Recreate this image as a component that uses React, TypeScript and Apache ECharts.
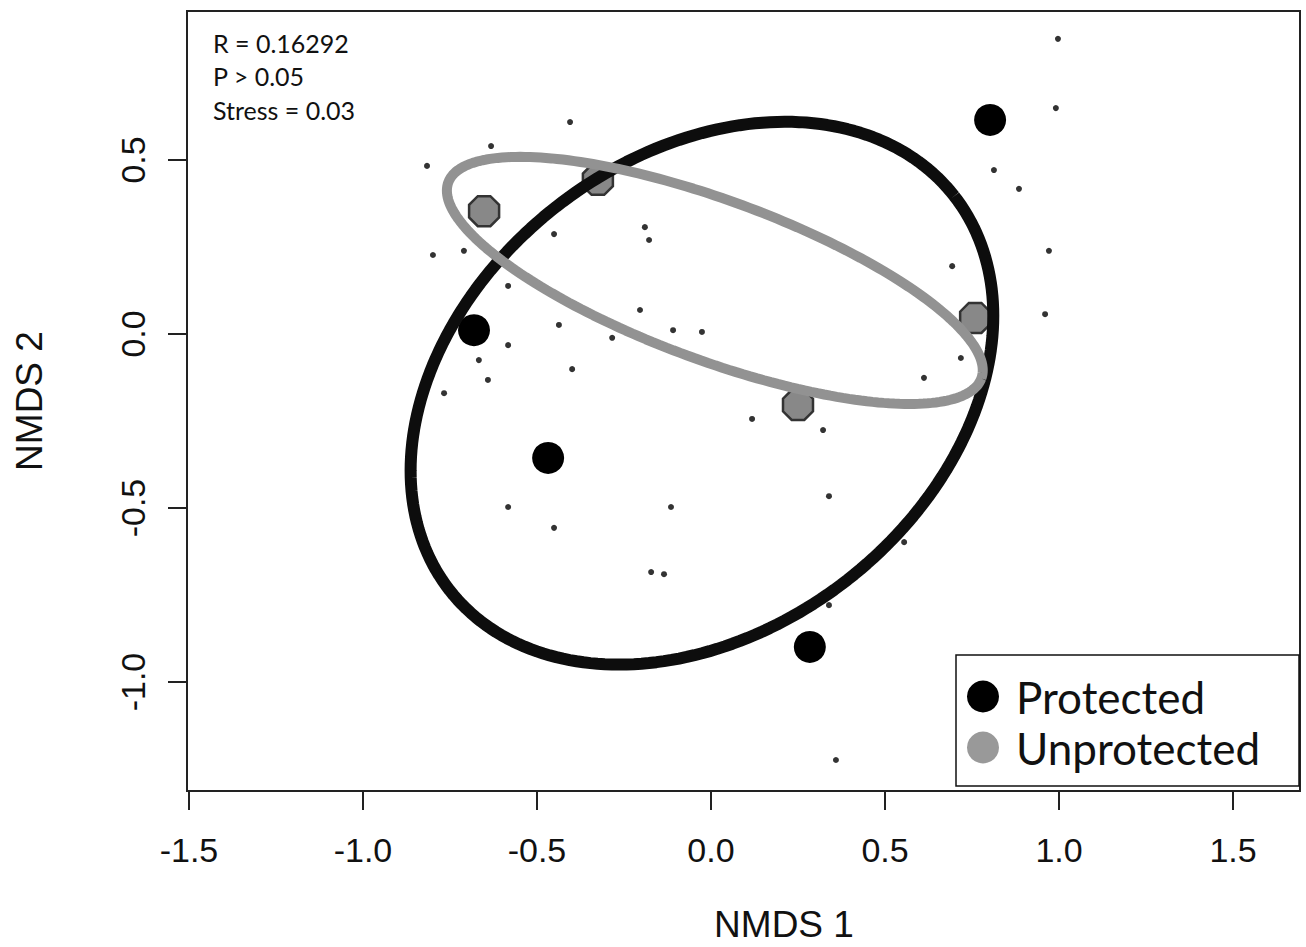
import React, { useEffect, useRef } from "react";
import * as echarts from "echarts";

// ---- Data ----
const protectedX = [0.802, -0.681, -0.468, 0.284];
const protectedY = [0.615, 0.011, -0.356, -0.899];

const unprotectedX = [-0.652, -0.325, 0.759, 0.25];
const unprotectedY = [0.353, 0.443, 0.046, -0.204];

const speciesX = [
  0.997, 0.991, -0.405, -0.632, -0.816, 0.813, 0.885, -0.451, -0.19, -0.178,
  -0.799, -0.71, 0.971, 0.693, -0.583, 0.96, -0.204, -0.109, -0.026, -0.437,
  -0.284, -0.583, -0.667, -0.641, -0.399, -0.767, 0.612, 0.718, 0.118, 0.322,
  0.339, -0.583, -0.451, -0.115, -0.172, -0.135, 0.555, 0.339, 0.359,
];
const speciesY = [
  0.848, 0.649, 0.609, 0.54, 0.483, 0.471, 0.417, 0.287, 0.307, 0.27,
  0.227, 0.239, 0.239, 0.195, 0.138, 0.057, 0.069, 0.011, 0.006, 0.026,
  -0.011, -0.032, -0.075, -0.132, -0.101, -0.17, -0.126, -0.069, -0.244, -0.276,
  -0.466, -0.497, -0.557, -0.497, -0.684, -0.69, -0.598, -0.779, -1.224,
];

const xTicks = [-1.5, -1.0, -0.5, 0.0, 0.5, 1.0, 1.5];
const yTicks = [-1.0, -0.5, 0.0, 0.5];
const statsLines = ["R = 0.16292", "P > 0.05", "Stress = 0.03"];
const groupNames = ["Protected", "Unprotected"];

// ellipse parameters (data units): centre, semi-axes, rotation in degrees
const protectedEllipse = { cx: -0.026, cy: -0.17, a: 0.92, b: 0.68, angle: 38 };
const unprotectedEllipse = { cx: 0.011, cy: 0.154, a: 0.816, b: 0.23, angle: -20.2 };

function ellipsePoints(e: { cx: number; cy: number; a: number; b: number; angle: number }) {
  const pts: number[][] = [];
  const th = (e.angle * Math.PI) / 180;
  const n = 240;
  for (let i = 0; i <= n; i++) {
    const t = (i / n) * Math.PI * 2;
    const u = e.a * Math.cos(t);
    const v = e.b * Math.sin(t);
    pts.push([e.cx + u * Math.cos(th) - v * Math.sin(th), e.cy + u * Math.sin(th) + v * Math.cos(th)]);
  }
  return pts;
}

const zip = (xs: number[], ys: number[]) => xs.map((x, i) => [x, ys[i]]);

const OCTAGON = "path://M29,0L71,0L100,29L100,71L71,100L29,100L0,71L0,29Z";
const SANS = "'Liberation Sans', Arial, sans-serif";
const CAL = "Lato, 'Open Sans', sans-serif";

export default function App() {
  const ref = useRef<HTMLDivElement>(null);
  useEffect(() => {
    const chart = echarts.init(ref.current!, null, { renderer: "svg" });
    const option: any = {
      animation: false,
      backgroundColor: "#ffffff",
      grid: {
        left: 187,
        top: 11,
        width: 1113,
        height: 780,
        show: true,
        borderColor: "#222",
        borderWidth: 2,
        backgroundColor: "#fff",
        outerBoundsMode: "none",
        containLabel: false,
      },
      xAxis: {
        type: "value",
        min: -1.5057,
        max: 1.6925,
        splitLine: { show: false },
        axisLine: { show: false, onZero: false },
        axisTick: {
          show: true,
          length: 19,
          customValues: xTicks,
          lineStyle: { color: "#222", width: 2 },
        },
        axisLabel: {
          customValues: xTicks,
          formatter: (v: number) => v.toFixed(1),
          fontSize: 34,
          fontFamily: SANS,
          color: "#111",
          margin: 42,
        },
        name: "NMDS 1",
        nameLocation: "middle",
        nameGap: 115,
        nameTextStyle: { fontSize: 37, fontFamily: SANS, color: "#111", padding: [0, 0, 0, 81] },
      },
      yAxis: {
        type: "value",
        min: -1.313,
        max: 0.928,
        splitLine: { show: false },
        axisLine: { show: false, onZero: false },
        axisTick: {
          show: true,
          length: 19,
          customValues: yTicks,
          lineStyle: { color: "#222", width: 2 },
        },
        axisLabel: {
          customValues: yTicks,
          formatter: (v: number) => v.toFixed(1),
          fontSize: 34,
          fontFamily: SANS,
          color: "#111",
          rotate: 90,
          margin: 37,
        },
        name: "NMDS 2",
        nameLocation: "middle",
        nameGap: 139,
        nameRotate: 90,
        nameTextStyle: { fontSize: 37, fontFamily: SANS, color: "#111" },
      },
      legend: {
        data: [
          { name: groupNames[0], icon: "circle", itemStyle: { color: "#000", borderWidth: 0, opacity: 1 } },
          { name: groupNames[1], icon: "circle", itemStyle: { color: "#999", borderWidth: 0, opacity: 1 } },
        ],
        orient: "vertical",
        left: 967,
        top: 671,
        padding: 0,
        itemGap: 0,
        itemWidth: 56,
        itemHeight: 32,
        z: 10,
        selectedMode: false,
        textStyle: { fontSize: 44, fontFamily: CAL, color: "#111", lineHeight: 51 },
      },
      graphic: [
        {
          type: "rect",
          z: 8,
          shape: { x: 956, y: 655, width: 343, height: 131 },
          style: { fill: "#fff", stroke: "#111", lineWidth: 1.5 },
          silent: true,
        },
        ...statsLines.map((s, i) => ({
          type: "text",
          z: 8,
          x: 213,
          y: 30 + i * 33.5,
          style: { text: s, fontSize: 25, fontFamily: CAL, fill: "#111", verticalAlign: "top" },
          silent: true,
        })),
      ],
      series: [
        {
          name: "species",
          type: "scatter",
          data: zip(speciesX, speciesY),
          symbol: "circle",
          symbolSize: 6,
          itemStyle: { color: "#333", opacity: 1 },
          silent: true,
          z: 2,
        },
        {
          name: groupNames[0],
          type: "scatter",
          data: zip(protectedX, protectedY),
          symbol: "circle",
          symbolSize: 32,
          itemStyle: { color: "#000", opacity: 1 },
          silent: true,
          z: 3,
        },
        {
          name: groupNames[1],
          type: "scatter",
          data: zip(unprotectedX, unprotectedY),
          symbol: OCTAGON,
          symbolSize: 30,
          itemStyle: { color: "#888", borderColor: "#333", borderWidth: 2.5, opacity: 1 },
          silent: true,
          z: 3,
        },
        {
          name: "protectedEllipse",
          type: "line",
          data: ellipsePoints(protectedEllipse),
          showSymbol: false,
          symbol: "none",
          lineStyle: { color: "#0d0d0d", width: 12 },
          silent: true,
          z: 4,
        },
        {
          name: "unprotectedEllipse",
          type: "line",
          data: ellipsePoints(unprotectedEllipse),
          showSymbol: false,
          symbol: "none",
          lineStyle: { color: "#929292", width: 10 },
          silent: true,
          z: 5,
        },
      ],
    };
    chart.setOption(option);
    return () => chart.dispose();
  }, []);
  return (
    <div
      ref={ref}
      style={{ position: "absolute", left: 0, top: 0, width: 1306, height: 947 }}
    />
  );
}
